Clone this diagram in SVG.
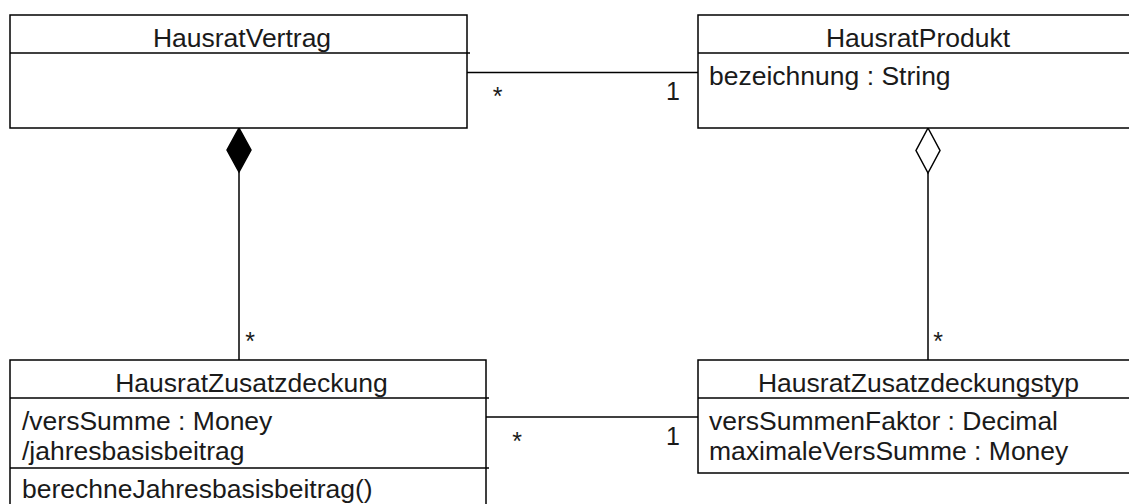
<svg xmlns="http://www.w3.org/2000/svg" width="1129" height="504" viewBox="0 0 1129 504">
  <style>
    .box { fill: #ffffff; stroke: #000000; stroke-width: 1.5; }
    .div { stroke: #000000; stroke-width: 1.5; fill: none; }
    .edge { stroke: #000000; stroke-width: 1.5; fill: none; }
    .t { font-family: "Liberation Sans", Arial, sans-serif; font-size: 26.5px; fill: #1a1a1a; }
    .c { text-anchor: middle; }
    .m { font-family: "Liberation Sans", Arial, sans-serif; font-size: 25px; fill: #1a1a1a; text-anchor: middle; }
  </style>
  <rect width="1129" height="504" fill="#ffffff"/>

  <g id="connectors">
    <line class="edge" x1="467" y1="72.5" x2="698" y2="72.5"/>
    <line class="edge" x1="486" y1="417" x2="698" y2="417"/>
    <line class="edge" x1="239" y1="172" x2="239" y2="360"/>
    <polygon points="239,128 251,150 239,172 227,150" fill="#000000" stroke="#000000" stroke-width="1.5"/>
    <line class="edge" x1="928" y1="173" x2="928" y2="360"/>
    <polygon points="928,128 940,150.5 928,173 916,150.5" fill="#ffffff" stroke="#000000" stroke-width="1.5"/>
    <text class="m" x="497.5" y="105">*</text>
    <text class="m" x="673" y="100">1</text>
    <text class="m" x="517" y="450">*</text>
    <text class="m" x="673" y="445">1</text>
    <text class="m" x="250" y="350">*</text>
    <text class="m" x="938" y="350">*</text>
  </g>

  <g id="HausratVertrag">
    <rect class="box" x="10" y="15" width="457" height="113"/>
    <line class="div" x1="10" y1="53" x2="470" y2="53"/>
    <text class="t c" x="242" y="47">HausratVertrag</text>
  </g>

  <g id="HausratProdukt">
    <rect class="box" x="698" y="15" width="442" height="113"/>
    <line class="div" x1="698" y1="53" x2="1140" y2="53"/>
    <text class="t c" x="918" y="47">HausratProdukt</text>
    <text class="t" x="709" y="85">bezeichnung : String</text>
  </g>

  <g id="HausratZusatzdeckung">
    <rect class="box" x="10" y="360" width="476" height="170"/>
    <line class="div" x1="10" y1="398" x2="489" y2="398"/>
    <line class="div" x1="10" y1="468" x2="489" y2="468"/>
    <text class="t c" x="251.5" y="392">HausratZusatzdeckung</text>
    <text class="t" x="22" y="430">/versSumme : Money</text>
    <text class="t" x="22" y="460">/jahresbasisbeitrag</text>
    <text class="t" x="22" y="498">berechneJahresbasisbeitrag()</text>
  </g>

  <g id="HausratZusatzdeckungstyp">
    <rect class="box" x="698" y="360" width="442" height="113"/>
    <line class="div" x1="698" y1="398" x2="1140" y2="398"/>
    <text class="t c" x="918.5" y="392">HausratZusatzdeckungstyp</text>
    <text class="t" x="709" y="430">versSummenFaktor : Decimal</text>
    <text class="t" x="709" y="460">maximaleVersSumme : Money</text>
  </g>
</svg>
